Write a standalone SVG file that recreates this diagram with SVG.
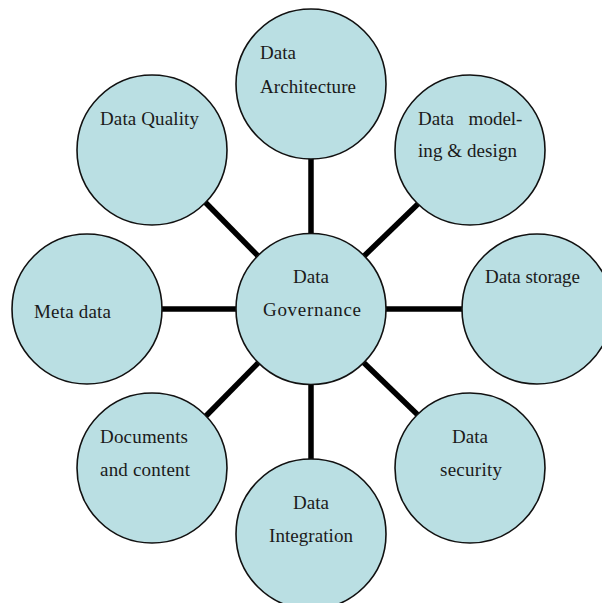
<svg xmlns="http://www.w3.org/2000/svg" width="602" height="603" viewBox="0 0 602 603">
<style>
.n{fill:#badfe3;stroke:#111;stroke-width:1.6}
.c{stroke:#000;stroke-width:5.5;fill:none}
text{font-size:19px;fill:#1a1a1a}
.m{text-anchor:middle}
</style>
<rect width="602" height="603" fill="#fff"/>
<g id="connectors">
<line class="c" x1="311" y1="155" x2="311" y2="238"/>
<line class="c" x1="311" y1="380" x2="311" y2="463"/>
<line class="c" x1="158" y1="309" x2="240" y2="309"/>
<line class="c" x1="382" y1="309" x2="466" y2="309"/>
<line class="c" x1="204" y1="201" x2="261" y2="259"/>
<line class="c" x1="421" y1="201" x2="361" y2="259"/>
<line class="c" x1="261" y1="360" x2="204" y2="418"/>
<line class="c" x1="361" y1="360" x2="421" y2="418"/>
</g>
<g font-family="'Liberation Serif', 'DejaVu Serif', 'Times New Roman', serif">
<g id="arch"><circle class="n" cx="311" cy="84" r="75"/><text x="260" y="59">Data</text><text x="260" y="93" textLength="96">Architecture</text></g>
<g id="quality"><circle class="n" cx="152" cy="150" r="75"/><text x="100" y="125" textLength="99">Data Quality</text></g>
<g id="modeling"><circle class="n" cx="470" cy="150" r="75"/><text x="418" y="125" word-spacing="10">Data model-</text><text x="418" y="157" textLength="99">ing &amp; design</text></g>
<g id="meta"><circle class="n" cx="87" cy="309" r="75"/><text x="34" y="318" textLength="77">Meta data</text></g>
<g id="storage"><circle class="n" cx="537" cy="309" r="75"/><text x="485" y="283" textLength="95">Data storage</text></g>
<g id="governance"><ellipse class="n" cx="311" cy="309" rx="75" ry="75.5"/><text class="m" x="311" y="283" font-size="20">Data</text><text class="m" x="312" y="316" font-size="20" textLength="98">Governance</text></g>
<g id="documents"><circle class="n" cx="152" cy="468" r="75"/><text x="100" y="443" textLength="88">Documents</text><text x="100" y="476" textLength="90">and content</text></g>
<g id="security"><circle class="n" cx="470" cy="468" r="75"/><text class="m" x="470" y="443">Data</text><text class="m" x="471" y="476" textLength="62">security</text></g>
<g id="integration"><circle class="n" cx="311" cy="534" r="75"/><text class="m" x="311" y="509">Data</text><text class="m" x="311" y="542" textLength="84">Integration</text></g>
</g>
</svg>
